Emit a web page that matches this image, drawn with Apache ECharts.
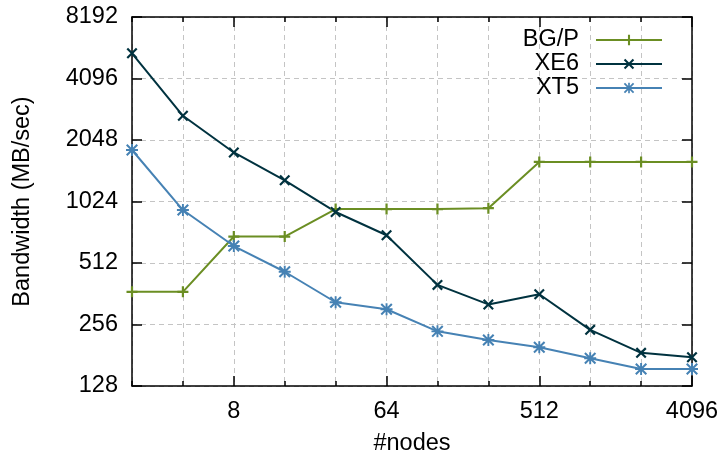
<!DOCTYPE html>
<html>
<head>
<meta charset="utf-8">
<script src="https://cdn.jsdelivr.net/npm/echarts@6/dist/echarts.min.js"></script>
<style>
html, body { margin: 0; padding: 0; background: #fff; }
#chart { width: 720px; height: 457px; }
</style>
</head>
<body>
<div id="chart"></div>
<script>
// node counts (powers of two, evenly spaced = log2 axis)
const nodes = ['2', '4', '8', '16', '32', '64', '128', '256', '512', '1024', '2048', '4096']
const labeledNodes = ['8', '64', '512', '4096']
const seriesNames = ['BG/P', 'XE6', 'XT5']
// bandwidth in MB/sec
const bgpData = [370, 370, 690, 690, 940, 940, 940, 950, 1600, 1600, 1600, 1600]
const xe6Data = [5440, 2690, 1780, 1300, 910, 700, 400, 321, 360, 241, 186, 177]
const xt5Data = [1830, 930, 620, 464, 329, 304, 237, 215, 198, 175, 155, 155]
const yMin = 128
const yMax = 8192

// gnuplot-like point types
const plusPath = 'path://M4,0H6V10H4Z M0,4H10V6H0Z'
const crossPath = 'path://M0,1.4L1.4,0L10,8.6L8.6,10Z M8.6,0L10,1.4L1.4,10L0,8.6Z'
const starPath = 'path://M4.2,0H5.8V10H4.2Z M0,4.2H10V5.8H0Z M0,1.2L1.2,0L10,8.8L8.8,10Z M8.8,0L10,1.2L1.2,10L0,8.8Z'

const font = 'Liberation Sans, Arial, Helvetica, sans-serif'
const fontSize = 23.5
const isMajor = (i, v) => labeledNodes.indexOf(v) >= 0

const chart = echarts.init(document.getElementById('chart'))

const xBase = {
    type: 'category',
    data: nodes,
    boundaryGap: false,
    axisLine: { show: true, lineStyle: { color: '#000', width: 1.5 } },
    axisTick: { show: true, inside: true, length: 5, interval: 0, lineStyle: { color: '#000', width: 1.5 } },
    axisLabel: { show: false },
    splitLine: { show: false }
}

chart.setOption({
    backgroundColor: '#fff',
    animation: false,
    textStyle: { fontFamily: font },
    grid: { left: 132, top: 17, right: 28, bottom: 71, outerBoundsMode: 'none' },
    legend: {
        data: seriesNames,
        orient: 'vertical',
        align: 'right',
        right: 52,
        top: 23,
        itemWidth: 66,
        itemHeight: 13,
        itemGap: 0,
        textStyle: { fontFamily: font, fontSize: fontSize, lineHeight: 24, color: '#000', padding: [0, 12, 0, 0] }
    },
    xAxis: [
        Object.assign({}, xBase, {
            position: 'bottom',
            name: '#nodes',
            nameLocation: 'middle',
            nameGap: 46,
            nameTextStyle: { fontFamily: font, fontSize: fontSize, color: '#000' },
            axisLabel: {
                show: true,
                interval: isMajor,
                margin: 14,
                fontFamily: font,
                fontSize: fontSize,
                color: '#000'
            },
            splitLine: {
                show: true,
                interval: 0,
                lineStyle: { color: '#c4c4c4', width: 1, type: [5, 4] }
            }
        }),
        Object.assign({}, xBase, { position: 'top' }),
        Object.assign({}, xBase, {
            position: 'bottom',
            axisLine: { show: false },
            axisTick: { show: true, inside: true, length: 10, interval: isMajor, lineStyle: { color: '#000', width: 1.5 } }
        }),
        Object.assign({}, xBase, {
            position: 'top',
            axisLine: { show: false },
            axisTick: { show: true, inside: true, length: 10, interval: isMajor, lineStyle: { color: '#000', width: 1.5 } }
        })
    ],
    yAxis: [
        {
            type: 'log',
            logBase: 2,
            min: yMin,
            max: yMax,
            position: 'left',
            name: 'Bandwidth (MB/sec)',
            nameLocation: 'middle',
            nameGap: 97,
            nameTextStyle: { fontFamily: font, fontSize: fontSize, color: '#000' },
            axisLine: { show: true, lineStyle: { color: '#000', width: 1.5 } },
            axisTick: { show: true, inside: true, length: 10, lineStyle: { color: '#000', width: 1.5 } },
            axisLabel: {
                margin: 14,
                fontFamily: font,
                fontSize: fontSize,
                color: '#000',
                formatter: v => String(Math.round(v))
            },
            splitLine: { show: true, lineStyle: { color: '#c4c4c4', width: 1, type: [5, 4] } }
        },
        {
            type: 'log',
            logBase: 2,
            min: yMin,
            max: yMax,
            position: 'right',
            axisLine: { show: true, lineStyle: { color: '#000', width: 1.5 } },
            axisTick: { show: true, inside: true, length: 10, lineStyle: { color: '#000', width: 1.5 } },
            axisLabel: { show: false },
            splitLine: { show: false }
        }
    ],
    series: [
        {
            name: 'BG/P',
            type: 'line',
            data: bgpData,
            symbol: plusPath,
            symbolSize: 11,
            showAllSymbol: true,
            itemStyle: { color: '#6b8e23' },
            lineStyle: { color: '#6b8e23', width: 2 }
        },
        {
            name: 'XE6',
            type: 'line',
            data: xe6Data,
            symbol: crossPath,
            symbolSize: 11,
            showAllSymbol: true,
            itemStyle: { color: '#00323f' },
            lineStyle: { color: '#00323f', width: 2 }
        },
        {
            name: 'XT5',
            type: 'line',
            data: xt5Data,
            symbol: starPath,
            symbolSize: 12,
            showAllSymbol: true,
            itemStyle: { color: '#4682b4' },
            lineStyle: { color: '#4682b4', width: 2 }
        }
    ]
})
</script>
</body>
</html>
